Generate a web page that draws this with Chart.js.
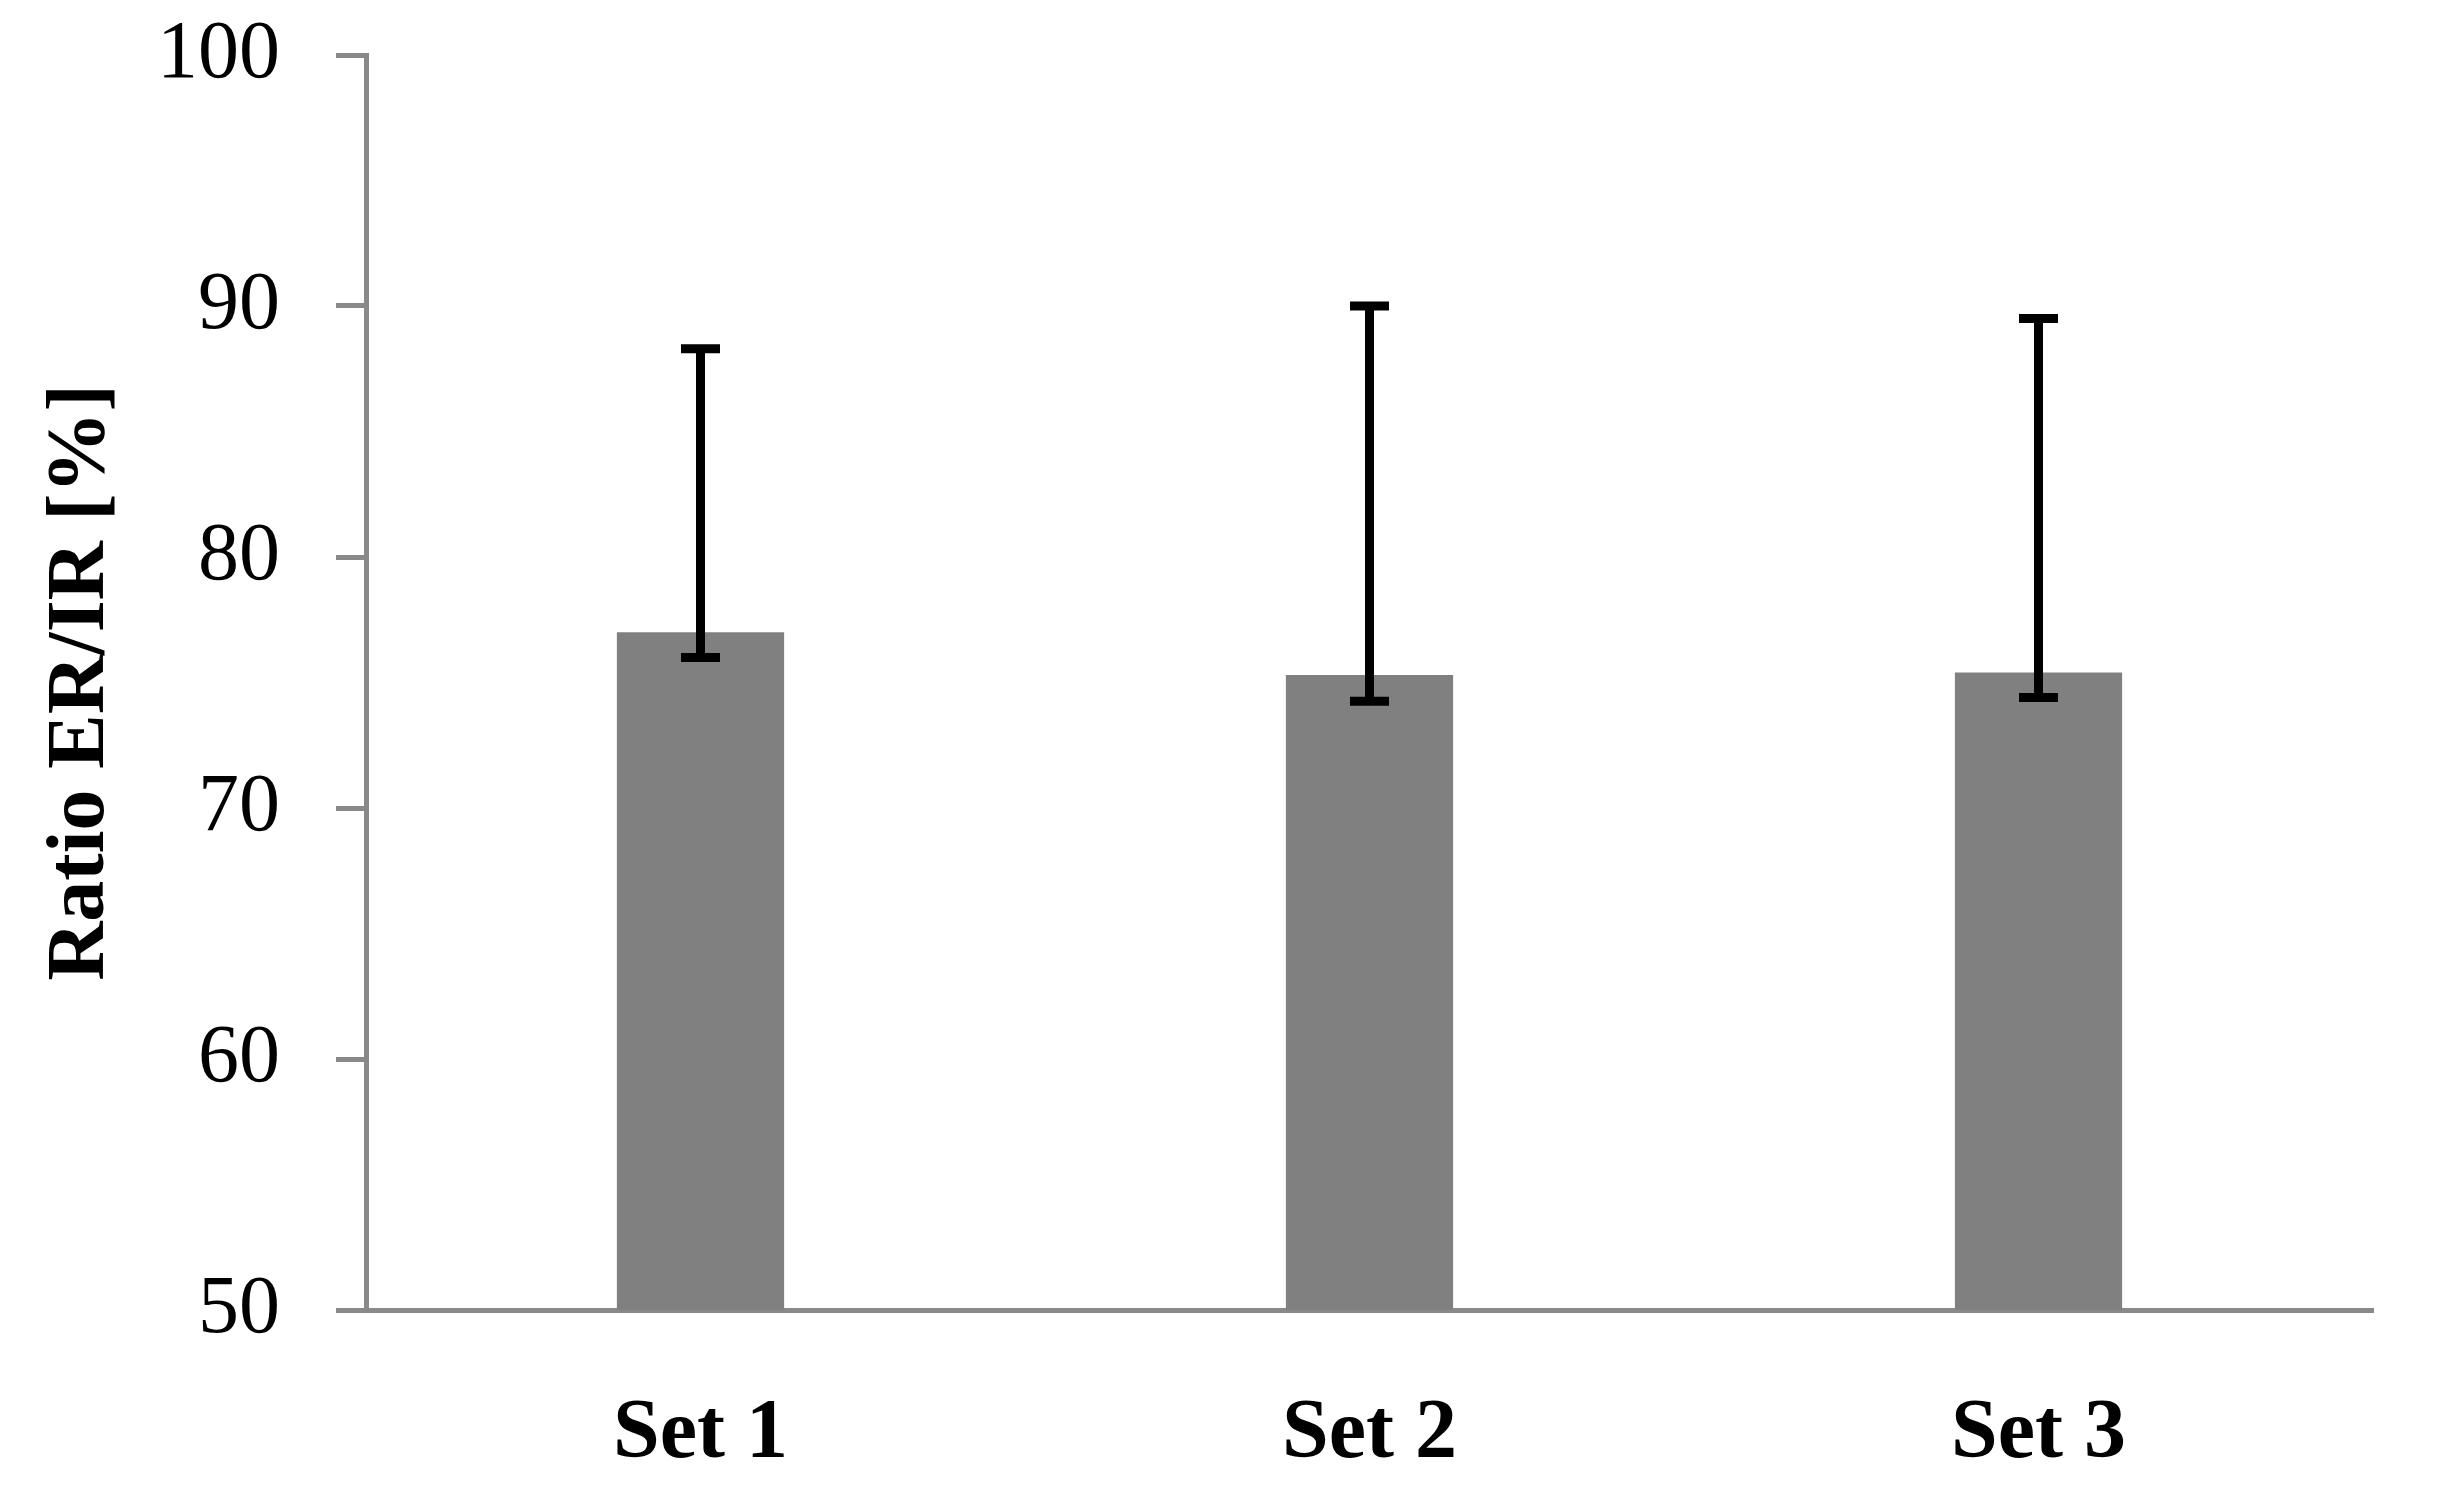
<!DOCTYPE html>
<html>
<head>
<meta charset="utf-8">
<script src="https://cdn.jsdelivr.net/npm/chart.js@4/dist/chart.umd.min.js"></script>
<style>
  html, body { margin: 0; padding: 0; background: #ffffff; }
  #wrap { width: 2439px; height: 1495px; position: relative; }
</style>
</head>
<body>
<div id="wrap"><canvas id="c" width="2439" height="1495"></canvas></div>
<script>
const categories = ['Set 1', 'Set 2', 'Set 3'];
const meanValues = [77.0, 75.3, 75.4];
const errorUpper = [88.3, 90.0, 89.5];
const errorLower = [76.0, 74.25, 74.4];
const yMin = 50;
const yMax = 100;
const yStep = 10;
const yTitle = 'Ratio ER/IR [%]';

const AXIS_COLOR = '#898989';
const BAR_COLOR = '#808080';
const FONT = "'Liberation Serif', 'DejaVu Serif', serif";

const errorBarPlugin = {
  id: 'errorBars',
  afterDatasetsDraw(chart) {
    const ctx = chart.ctx;
    const meta = chart.getDatasetMeta(0);
    const yScale = chart.scales.y;
    ctx.save();
    ctx.strokeStyle = '#000000';
    ctx.lineWidth = 9;
    ctx.lineCap = 'butt';
    meta.data.forEach((bar, i) => {
      const x = bar.x;
      const yTop = yScale.getPixelForValue(errorUpper[i]);
      const yBot = yScale.getPixelForValue(errorLower[i]);
      const half = 19.5;
      ctx.beginPath();
      ctx.moveTo(x, yTop);
      ctx.lineTo(x, yBot);
      ctx.stroke();
      ctx.beginPath();
      ctx.moveTo(x - half, yTop);
      ctx.lineTo(x + half, yTop);
      ctx.moveTo(x - half, yBot);
      ctx.lineTo(x + half, yBot);
      ctx.stroke();
    });
    ctx.restore();
  }
};

new Chart(document.getElementById('c'), {
  type: 'bar',
  data: {
    labels: categories,
    datasets: [{
      data: meanValues,
      backgroundColor: BAR_COLOR,
      borderWidth: 0,
      barPercentage: 1.0,
      categoryPercentage: 0.25
    }]
  },
  options: {
    responsive: false,
    animation: false,
    devicePixelRatio: 1,
    layout: { padding: { top: 55, right: 66, bottom: 0, left: 0 } },
    plugins: {
      legend: { display: false },
      tooltip: { enabled: false },
      title: { display: false }
    },
    scales: {
      x: {
        grid: { display: false, drawTicks: false },
        border: { display: true, color: AXIS_COLOR, width: 5 },
        ticks: {
          color: '#000000',
          padding: 75,
          font: { family: FONT, size: 84, weight: 'bold' }
        },
        afterFit(scale) {
          scale.height = 185;
          scale.paddingLeft = 0;
          scale.paddingRight = 0;
        }
      },
      y: {
        min: yMin,
        max: yMax,
        ticks: {
          stepSize: yStep,
          color: '#000000',
          padding: 56,
          font: { family: FONT, size: 82 }
        },
        grid: {
          drawOnChartArea: false,
          drawTicks: true,
          tickLength: 30,
          color: AXIS_COLOR,
          lineWidth: 5
        },
        border: { display: true, color: AXIS_COLOR, width: 5 },
        title: {
          display: true,
          text: yTitle,
          color: '#000000',
          padding: { top: 33, bottom: 0 },
          font: { family: FONT, size: 82, weight: 'bold' }
        },
        afterFit(scale) {
          scale.width = 366;
          scale.paddingTop = 0;
          scale.paddingBottom = 0;
        }
      }
    }
  },
  plugins: [errorBarPlugin]
});
</script>
</body>
</html>
